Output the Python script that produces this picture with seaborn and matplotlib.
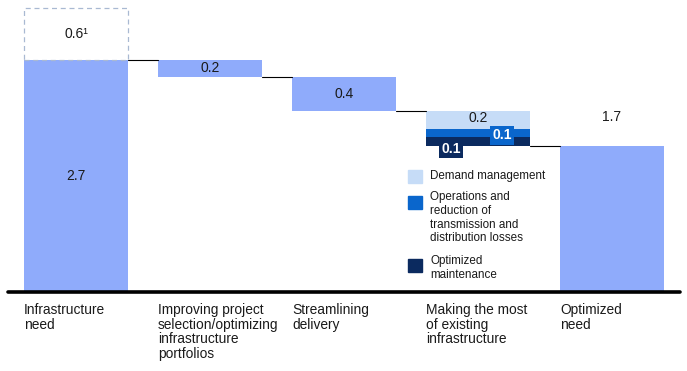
import matplotlib
matplotlib.use("Agg")
import matplotlib.pyplot as plt
from matplotlib.patches import Rectangle
import pandas as pd
import seaborn as sns

# ---- data -------------------------------------------------------------
categories = [
    "Infrastructure\nneed",
    "Improving project\nselection/optimizing\ninfrastructure\nportfolios",
    "Streamlining\ndelivery",
    "Making the most\nof existing\ninfrastructure",
    "Optimized\nneed",
]
infrastructure_need = 2.7
unfunded_gap = 0.6
step_savings = [0.2, 0.4]          # project selection, streamlining
existing_parts = [0.1, 0.1, 0.2]   # maintenance, operations, demand (bottom -> top)
existing_names = [
    "Optimized\nmaintenance",
    "Operations and\nreduction of\ntransmission and\ndistribution losses",
    "Demand management",
]
optimized_need = 1.7

# ---- style ------------------------------------------------------------
MAIN = "#8fabfb"
PART_COLORS = ["#0b2a5f", "#0a66cc", "#c6dcf7"]
TEXT = "#1a1a1a"
W = 0.776

sns.set_theme(style="white")
plt.rcParams["font.family"] = ["Liberation Sans", "DejaVu Sans"]

fig = plt.figure(figsize=(6.87, 3.71), dpi=100)
ax = fig.add_axes([8 / 687, 79 / 371, 672 / 687, 292 / 371])

totals = pd.DataFrame({"cat": [categories[0], categories[4]],
                       "value": [infrastructure_need, optimized_need]})
sns.barplot(data=totals, x="cat", y="value", order=categories, color=MAIN,
            saturation=1, width=W, errorbar=None, linewidth=0, ax=ax)

# dashed box for the additional gap
ax.bar(0, unfunded_gap, bottom=infrastructure_need, width=W, fill=False,
       edgecolor="#a9b9d2", linestyle=(0, (4, 3)), linewidth=0.9)

# floating savings bars
level = infrastructure_need
levels = [level]
for i, s in enumerate(step_savings, start=1):
    ax.bar(i, s, bottom=level - s, width=W, color=MAIN, linewidth=0)
    ax.text(i, level - s / 2, f"{s:.1f}", ha="center", va="center",
            fontsize=10, color=TEXT)
    level -= s
    levels.append(level)

# stacked "existing infrastructure" bar
bottom = level - sum(existing_parts)
for val, col in zip(existing_parts, PART_COLORS):
    ax.bar(3, val, bottom=bottom, width=W, color=col, linewidth=0)
    bottom += val
level -= sum(existing_parts)
levels.append(level)

# connectors
for i, lv in enumerate(levels):
    ax.plot([i + W / 2, i + 1 - W / 2], [lv, lv], color="black", lw=0.8)

# value labels
ax.text(0, infrastructure_need / 2, f"{infrastructure_need:.1f}", ha="center",
        va="center", fontsize=10, color=TEXT)
ax.text(0, infrastructure_need + unfunded_gap / 2, f"{unfunded_gap:.1f}\u00b9",
        ha="center", va="center", fontsize=10, color=TEXT)
ax.text(4, optimized_need + 0.33, f"{optimized_need:.1f}", ha="center",
        va="center", fontsize=10, color=TEXT)
ax.text(3, levels[2] - existing_parts[2] / 2 + 0.02, f"{existing_parts[2]:.1f}",
        ha="center", va="center", fontsize=10, color=TEXT)
ax.text(3.18, levels[3] + 0.12, f"{existing_parts[1]:.1f}", ha="center",
        va="center", fontsize=10, color="white", fontweight="bold",
        bbox=dict(boxstyle="square,pad=0.15", fc=PART_COLORS[1], ec="none"))
ax.text(2.80, levels[3] - 0.04, f"{existing_parts[0]:.1f}", ha="center",
        va="center", fontsize=10, color="white", fontweight="bold",
        bbox=dict(boxstyle="square,pad=0.15", fc=PART_COLORS[0], ec="none"))

# baseline
ax.axhline(0, color="black", lw=2.6, clip_on=False)

# category labels
for i, c in enumerate(categories):
    ax.text(i - W / 2, -0.038, c, transform=ax.get_xaxis_transform(),
            ha="left", va="top", fontsize=9.9, color=TEXT, linespacing=1.05)

# legend drawn by hand
leg_tops = [255, 191, 170]
sq_tops = [259, 196, 170]
for name, col, ty, sy in zip(existing_names, PART_COLORS, leg_tops, sq_tops):
    fig.patches.append(Rectangle((408 / 687, 1 - (sy + 13) / 371), 14 / 687, 13 / 371,
                                 transform=fig.transFigure, color=col))
    fig.text(430 / 687, 1 - ty / 371, name, ha="left", va="top", fontsize=8.4,
             color=TEXT, linespacing=1.2)

ax.set_xlim(-0.5075, 4.507)
ax.set_ylim(0, 292 / 86)
ax.set_xlabel("")
ax.set_ylabel("")
ax.set_xticks([])
ax.set_yticks([])
sns.despine(ax=ax, left=True, bottom=True)

fig.savefig("out.png", dpi=100)
